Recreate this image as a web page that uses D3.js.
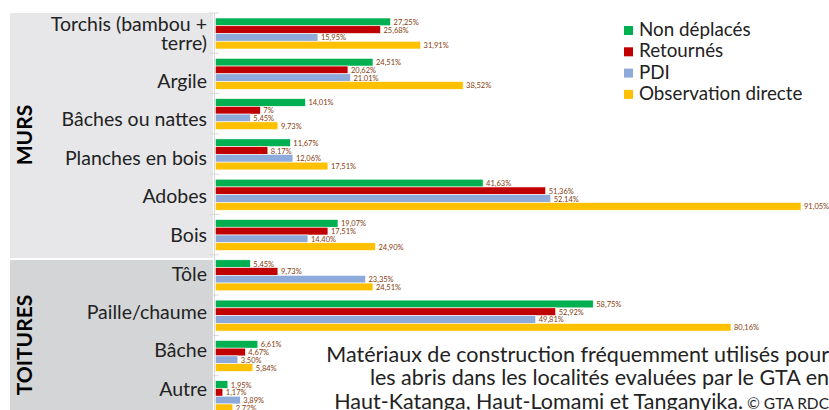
<!DOCTYPE html>
<html>
<head>
<meta charset="utf-8">
<script src="https://cdn.jsdelivr.net/npm/d3@7"></script>
<style>
  body { margin: 0; background: #fff; }
  svg { display: block; font-family: Lato, "Open Sans", sans-serif; }
</style>
</head>
<body>
<div id="chart"></div>
<script>
// Categories, grouped by section
var categories = ["Torchis (bambou + terre)", "Argile", "Bâches ou nattes", "Planches en bois", "Adobes", "Bois",
                  "Tôle", "Paille/chaume", "Bâche", "Autre"];
var sections = [
    {name: "MURS", cats: categories.slice(0, 6)},
    {name: "TOITURES", cats: categories.slice(6)}
];
var seriesNames = ["Non déplacés", "Retournés", "PDI", "Observation directe"];
var seriesColors = ["#00b050", "#c00000", "#8eaadb", "#ffc000"];

// Values (%)
var nonDeplaces = [27.25, 24.51, 14.01, 11.67, 41.63, 19.07, 5.45, 58.75, 6.61, 1.95];
var retournes   = [25.68, 20.62, 7, 8.17, 51.36, 17.51, 9.73, 52.92, 4.67, 1.17];
var pdi         = [15.95, 21.01, 5.45, 12.06, 52.14, 14.40, 23.35, 49.81, 3.50, 3.89];
var observation = [31.91, 38.52, 9.73, 17.51, 91.05, 24.90, 24.51, 80.16, 5.84, 2.72];
var allSeries = [nonDeplaces, retournes, pdi, observation];

var caption = ["Matériaux de construction fréquemment utilisés pour",
               "les abris  dans les localités evaluées par le GTA en",
               "Haut-Katanga, Haut-Lomami et Tanganyika."];

var width = 829, height = 410;
var svg = d3.select("#chart").append("svg")
    .attr("width", width)
    .attr("height", height);

// Scales
var x = d3.scaleLinear().domain([0, 100]).range([215.3, 858.6]);
var y = d3.scaleBand().domain(categories).range([13, 13 + 40.3 * categories.length]);
var ySeries = d3.scaleBand().domain(d3.range(4)).range([5, 36]);

// Left panels
var panelY = [[13, 258], [260, 412]];
var panelFill = ["#e7e7e9", "#d4d5d7"];
sections.forEach(function(s, i) {
    svg.append("rect")
        .attr("x", 10).attr("y", panelY[i][0])
        .attr("width", 203).attr("height", panelY[i][1] - panelY[i][0])
        .attr("fill", panelFill[i]);
});

// Section titles (vertical)
var titleCenter = [135, 345];
sections.forEach(function(s, i) {
    svg.append("text")
        .attr("transform", "translate(32," + titleCenter[i] + ") rotate(-90)")
        .attr("text-anchor", "middle")
        .attr("font-size", 21)
        .attr("font-weight", "bold")
        .attr("fill", "#000")
        .text(s.name);
});

// Category labels: each section has its own slightly tighter spacing
var labelRanges = [[23.4, 253.8], [254.9, 407.7]];
sections.forEach(function(s, i) {
    var yl = d3.scaleBand().domain(s.cats).range(labelRanges[i]);
    s.cats.forEach(function(c) {
        var cy = yl(c) + yl.bandwidth() / 2;
        var t = svg.append("text")
            .attr("text-anchor", "end")
            .attr("font-size", 19.5)
            .attr("fill", "#222");
        if (c == "Torchis (bambou + terre)") {
            t.append("tspan").attr("x", 207).attr("y", 30.7).text("Torchis (bambou +");
            t.append("tspan").attr("x", 207).attr("y", 50).text("terre)");
        } else {
            t.attr("x", 207).attr("y", cy + 7).text(c);
        }
    });
});

// Axis line and cross ticks
svg.append("line")
    .attr("x1", 214.5).attr("x2", 214.5)
    .attr("y1", 13).attr("y2", height)
    .attr("stroke", "#d9d9d9");
var tickYs = categories.map(function(c) { return y(c); });
svg.selectAll("line.tick")
    .data(tickYs)
    .enter().append("line")
    .attr("class", "tick")
    .attr("x1", 209).attr("x2", 219)
    .attr("y1", function(d) { return d; })
    .attr("y2", function(d) { return d; })
    .attr("stroke", "#d9d9d9");

// Bars
function fmt(v) {
    return Number.isInteger(v) ? v + "%" : v.toFixed(2).replace(".", ",") + "%";
}
allSeries.forEach(function(vals, si) {
    var g = svg.append("g");
    g.selectAll("rect")
        .data(vals)
        .enter().append("rect")
        .attr("x", x(0))
        .attr("y", function(d, i) { return y(categories[i]) + ySeries(si); })
        .attr("width", function(d) { return x(d) - x(0); })
        .attr("height", ySeries.bandwidth())
        .attr("fill", seriesColors[si])
        .attr("stroke", "#fff")
        .attr("stroke-width", 0.6);
    g.selectAll("text")
        .data(vals)
        .enter().append("text")
        .attr("x", function(d) { return x(d) + 3; })
        .attr("y", function(d, i) { return y(categories[i]) + ySeries(si) + ySeries.bandwidth() / 2 + 3; })
        .attr("font-size", 7.5)
        .attr("fill", "#843c0c")
        .text(fmt);
});

// Legend
var legend = svg.append("g").attr("transform", "translate(624,0)");
seriesNames.forEach(function(n, i) {
    var by = 36 + i * 21.3;
    legend.append("rect")
        .attr("x", 0).attr("y", by - 10)
        .attr("width", 9).attr("height", 9)
        .attr("fill", seriesColors[i]);
    legend.append("text")
        .attr("x", 15).attr("y", by)
        .attr("font-size", 18.8)
        .attr("fill", "#222")
        .text(n);
});

// Caption
var cap = svg.append("text")
    .attr("text-anchor", "end")
    .attr("font-size", 21.5)
    .attr("fill", "#222");
caption.forEach(function(line, i) {
    var ts = cap.append("tspan").attr("x", 829).attr("y", 361.7 + i * 23.5).text(line);
    if (i == caption.length - 1) {
        ts.append("tspan").attr("font-size", 15.5).text(" © GTA RDC");
    }
});
</script>
</body>
</html>
